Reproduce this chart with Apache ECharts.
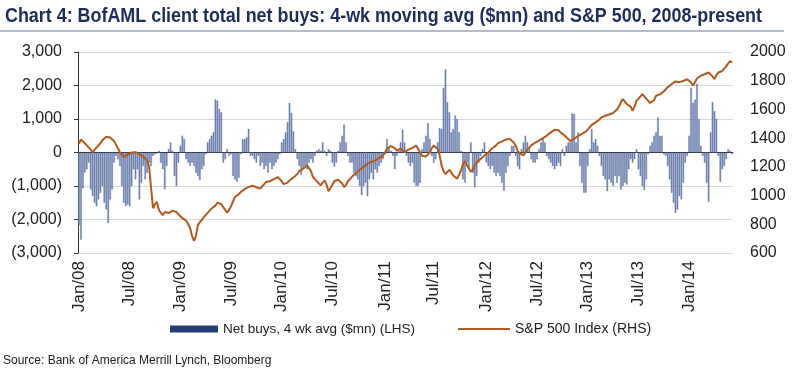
<!DOCTYPE html>
<html>
<head>
<meta charset="utf-8">
<script src="https://cdn.jsdelivr.net/npm/echarts@6/dist/echarts.min.js"></script>
<style>
  html, body { margin: 0; padding: 0; background: #fff; }
  #chart { width: 800px; height: 375px; }
</style>
</head>
<body>
<div id="chart"></div>
<script>
// weekly values, first week = Fri 4 Jan 2008
const startDate = '2008-01-04'

// net buys, 4 wk avg ($mn), LHS
const netBuys = [
  -2170, -2600, -1070, -600, -500, -300, -1100, -1300, -1500, -1600,
  -1400, -1200, -1000, -1500, -1700, -2100, -1400, -1100, -300, -100,
  -200, -400, -1000, -1500, -1600, -1550, -1600, -1000, -500, -800,
  -500, -1400, -900, -400, -800, -600, -300, -400, -100, -50,
  -30, 50, -300, -500, -1100, -400, 100, 300, 50, -700,
  -1000, -300, 200, 500, 400, -200, -300, -400, -300, -400,
  -600, -700, -820, -500, -400, -50, 300, 400, 500, 600,
  1580, 1550, 1300, 1200, -300, -200, 100, -100, -50, -700,
  -800, -870, -750, -50, 400, 400, 450, 700, -100, -100,
  -200, -300, -100, -400, -300, -500, -400, -600, -300, -500,
  -400, -300, -200, -50, 300, 400, 600, 900, 1480, 1180,
  630, 100, -200, -400, -670, -500, -400, -500, -300, -200,
  -300, -100, 50, 100, 50, 300, 50, -100, 100, 50,
  -300, -420, -300, 50, 300, 500, 830, 300, -100, -300,
  -300, -600, -700, -800, -1000, -1270, -1000, -900, -1300, -800,
  -600, -800, -500, -600, -400, -300, -200, -50, 400, 150,
  50, -100, -500, -100, 50, 300, 680, 300, -100, -300,
  -400, -300, -900, -1000, -1000, -900, 100, 300, 500, 880,
  400, -100, -300, -200, 300, 730, 700, 1930, 2480, 1500,
  1200, 600, 700, 1100, 1000, 600, 50, -800, -900, -300,
  -500, 300, -600, -1040, -700, -300, -100, 100, 300, -300,
  -400, -500, -400, -600, -700, -600, -700, -900, -1140, -600,
  -400, -100, 200, 200, -100, -400, -500, 100, 300, 500,
  300, 100, -200, -300, -300, -200, 100, 300, 400, 300,
  -100, -200, -300, -400, -500, -400, -300, -400, 100, -100,
  200, 300, 300, 1160, 1150, 300, 600, -400, -900, -1200,
  -1200, -400, 100, 700, 300, 400, 200, -100, -400, -700,
  -800, -1150, -800, -900, -1000, -700, -900, -700, -1100, -1000,
  -900, -950, -500, -200, -300, -200, 100, -500, -700, -1000,
  -1120, -800, -50, 200, 300, 500, 600, 1050, 500, 500,
  -50, -100, -400, -800, -1200, -1500, -1800, -1700, -1300, -1400,
  -900, -300, -100, 500, 1930, 1480, 1580, 2050, 1000, 200,
  -100, -300, -900, -1470, 600, 1500, 1230, 1000, -100, -870,
  -500, -400, -200, 100, 50, -50
]

// S&P 500 index, RHS
const spx = [
  1360, 1390, 1385, 1365, 1350, 1335, 1320, 1302, 1315, 1335,
  1350, 1365, 1385, 1398, 1410, 1418, 1405, 1400, 1380, 1355,
  1330, 1300, 1285, 1268, 1275, 1285, 1292, 1300, 1298, 1302,
  1295, 1288, 1280, 1270, 1258, 1245, 1200, 1050, 912, 940,
  955, 900, 880, 863, 885, 890, 878, 882, 895, 900,
  885, 870, 858, 843, 835, 825, 800, 773, 720, 685,
  720, 794, 815, 830, 850, 863, 880, 895, 910, 920,
  930, 950, 945, 940, 920, 900, 880, 900, 925, 960,
  990, 1000, 1010, 1025, 1037, 1045, 1050, 1060, 1070, 1068,
  1062, 1058, 1050, 1048, 1065, 1080, 1095, 1106, 1100, 1110,
  1115, 1120, 1129, 1115, 1100, 1080, 1071, 1090, 1105, 1118,
  1125, 1135, 1150, 1170, 1182, 1187, 1195, 1210, 1200, 1170,
  1129, 1115, 1100, 1085, 1071, 1090, 1106, 1075, 1030, 1040,
  1075, 1100, 1106, 1110, 1105, 1085, 1060, 1075, 1100, 1110,
  1130, 1145, 1152, 1165, 1180, 1187, 1200, 1210, 1222, 1225,
  1235, 1240, 1245, 1255, 1262, 1267, 1280, 1300, 1326, 1335,
  1345, 1348, 1330, 1314, 1318, 1326, 1320, 1302, 1310, 1320,
  1326, 1332, 1340, 1348, 1340, 1300, 1275, 1267, 1272, 1280,
  1300, 1330, 1348, 1340, 1326, 1280, 1210, 1170, 1150, 1165,
  1180, 1160, 1140, 1152, 1118, 1130, 1175, 1220, 1240, 1210,
  1190, 1165, 1180, 1210, 1230, 1240, 1255, 1265, 1279, 1290,
  1300, 1315, 1330, 1340, 1350, 1365, 1370, 1378, 1383, 1390,
  1395, 1395, 1385, 1370, 1350, 1310, 1295, 1285, 1280, 1300,
  1320, 1335, 1350, 1360, 1368, 1375, 1383, 1390, 1400, 1410,
  1418, 1425, 1440, 1452, 1458, 1464, 1455, 1440, 1432, 1420,
  1406, 1395, 1380, 1371, 1395, 1405, 1415, 1418, 1429, 1435,
  1445, 1455, 1475, 1492, 1500, 1510, 1522, 1530, 1545, 1552,
  1556, 1560, 1565, 1568, 1575, 1579, 1600, 1620, 1650, 1672,
  1655, 1637, 1640, 1620, 1591, 1620, 1660, 1675, 1690, 1707,
  1695, 1675, 1660, 1645, 1637, 1665, 1695, 1700, 1705, 1707,
  1725, 1741, 1755, 1765, 1776, 1785, 1795, 1799, 1790, 1787,
  1798, 1805, 1811, 1800, 1787, 1765, 1753, 1815, 1825, 1835,
  1840, 1845, 1850, 1857, 1850, 1830, 1811, 1840, 1857, 1860,
  1868, 1880, 1900, 1920, 1937, 1926
]

const monthNames = ['Jan', 'Feb', 'Mar', 'Apr', 'May', 'Jun', 'Jul', 'Aug', 'Sep', 'Oct', 'Nov', 'Dec']

const titleText = 'Chart 4: BofAML client total net buys: 4-wk moving avg ($mn) and S&P 500, 2008-present'
const sourceText = 'Source: Bank of America Merrill Lynch, Bloomberg'

// one category per week
const weeks = []
const t0 = new Date(startDate + 'T12:00:00Z').getTime()
for (let i = 0; i < netBuys.length; i++) {
  weeks.push(new Date(t0 + i * 7 * 86400000).toISOString().slice(0, 10))
}

// label only the first week of Jan and Jul
function isHalfYearStart(i) {
  const d = new Date(weeks[i] + 'T12:00:00Z')
  const m = d.getUTCMonth()
  return (m === 0 || m === 6) && d.getUTCDate() <= 7
}

function fmtLeft(v) {
  if (v === 0) return '0'
  const s = Math.abs(v).toString().replace(/\B(?=(\d{3})+(?!\d))/g, ',')
  return v < 0 ? '(' + s + ')' : s
}

const font = 'Liberation Sans, Arial, sans-serif'
const titleFont = 'bold 20px Liberation Sans, Arial, sans-serif'

// the original title is set in a narrow face: squeeze a regular bold one to the same width
const ctx = document.createElement('canvas').getContext('2d')
ctx.font = titleFont
const titleScale = 757 / ctx.measureText(titleText).width

const chart = echarts.init(document.getElementById('chart'))

const option = {
  animation: false,
  backgroundColor: '#fff',
  graphic: [
    {
      type: 'text',
      x: 5,
      y: 6,
      scaleX: titleScale,
      style: {
        text: titleText,
        font: titleFont,
        fill: '#1d2c5c'
      }
    },
    {
      type: 'line',
      shape: { x1: 0, y1: 31, x2: 784, y2: 31 },
      style: { stroke: '#9ba6b9', lineWidth: 1.5 }
    },
    {
      type: 'text',
      x: 3,
      y: 355,
      style: {
        text: sourceText,
        font: '12px ' + font,
        fill: '#222'
      }
    }
  ],
  legend: [
    {
      left: 165,
      top: 317,
      itemWidth: 48,
      itemHeight: 7,
      data: [{ name: 'Net buys, 4 wk avg ($mn) (LHS)', icon: 'rect', itemStyle: { color: '#233c78', borderWidth: 0 } }],
      textStyle: { fontFamily: font, fontSize: 13.5, color: '#222' }
    },
    {
      left: 453,
      top: 317,
      itemWidth: 52,
      itemHeight: 7,
      data: [{ name: 'S&P 500 Index (RHS)', icon: 'path://M0,3 L52,3 L52,5 L0,5 Z' }],
      textStyle: { fontFamily: font, fontSize: 14, color: '#222' }
    }
  ],
  grid: {
    left: 78,
    right: 67,
    top: 52,
    bottom: 122
  },
  xAxis: [
    {
      type: 'category',
      data: weeks,
      position: 'bottom',
      axisLine: { show: false },
      axisTick: { show: false },
      axisLabel: {
        interval: (i) => isHalfYearStart(i),
        rotate: 90,
        margin: 8,
        fontFamily: font,
        fontSize: 17,
        color: '#222',
        formatter: (v) => {
          const d = new Date(v + 'T12:00:00Z')
          return monthNames[d.getUTCMonth()] + '/' + String(d.getUTCFullYear()).slice(2)
        }
      }
    },
    {
      type: 'category',
      data: weeks,
      position: 'bottom',
      axisLine: { onZero: true, onZeroAxisIndex: 0, lineStyle: { color: '#333', width: 1 } },
      axisTick: { show: false },
      axisLabel: { show: false }
    }
  ],
  yAxis: [
    {
      type: 'value',
      min: -3000,
      max: 3000,
      interval: 1000,
      axisLine: { show: true, lineStyle: { color: '#333' } },
      axisTick: { show: true, length: 4, lineStyle: { color: '#333' } },
      axisLabel: {
        margin: 16,
        fontFamily: font,
        fontSize: 16,
        color: '#222',
        formatter: fmtLeft
      },
      splitLine: { lineStyle: { color: '#d9d9d9', width: 1 } }
    },
    {
      type: 'value',
      position: 'right',
      min: 600,
      max: 2000,
      interval: 200,
      axisLine: { show: false },
      axisTick: { show: false },
      axisLabel: {
        margin: 17,
        fontFamily: font,
        fontSize: 16,
        color: '#222',
        formatter: (v) => String(v)
      },
      splitLine: { show: false }
    }
  ],
  series: [
    {
      name: 'Net buys, 4 wk avg ($mn) (LHS)',
      type: 'bar',
      xAxisIndex: 0,
      yAxisIndex: 0,
      data: netBuys,
      barWidth: 1.5,
      itemStyle: {
        color: '#7d92c0',
        borderColor: '#34497f',
        borderWidth: 0.3
      },
      z: 2
    },
    {
      name: 'S&P 500 Index (RHS)',
      type: 'line',
      xAxisIndex: 0,
      yAxisIndex: 1,
      data: spx,
      showSymbol: false,
      symbol: 'none',
      lineStyle: { color: '#b35a1f', width: 2 },
      itemStyle: { color: '#b35a1f' },
      z: 3
    }
  ]
}

chart.setOption(option)
</script>
</body>
</html>
